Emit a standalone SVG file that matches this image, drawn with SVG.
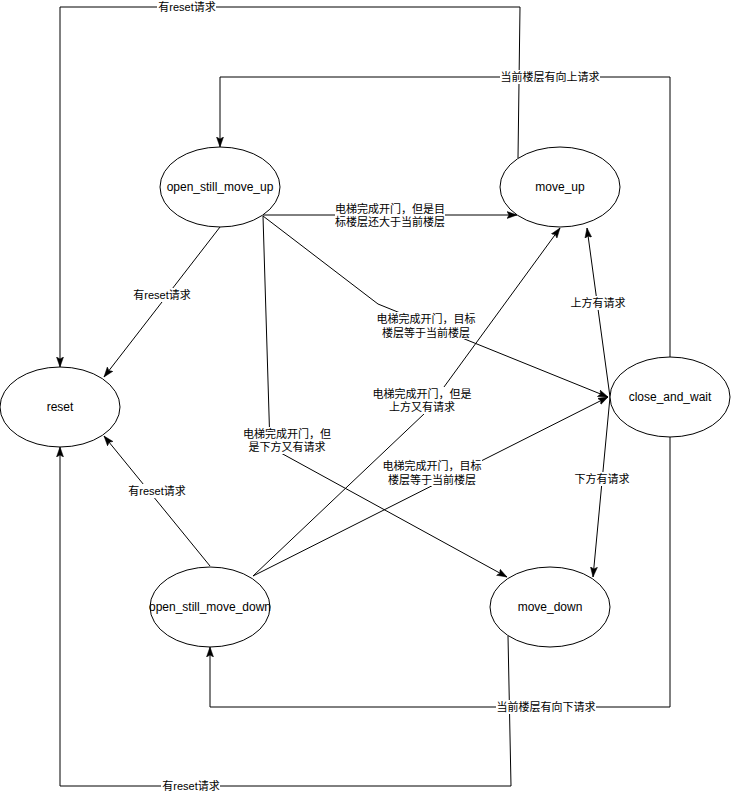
<svg xmlns="http://www.w3.org/2000/svg" width="731" height="796" viewBox="0 0 731 796">
<style>
.n ellipse{fill:#fff;stroke:#000;stroke-width:1}
.n text{font-family:"Liberation Sans","Noto Sans CJK SC",sans-serif;font-size:12px;fill:#000;text-anchor:middle;dominant-baseline:central}
.e path{fill:none;stroke:#000;stroke-width:1;marker-end:url(#arr)}
.lb rect{fill:#fff;stroke:none}
.lb text{font-family:"Liberation Sans","Noto Sans CJK SC",sans-serif;font-size:11px;fill:#000;text-anchor:middle;dominant-baseline:central}
</style>
<defs>
<marker id="arr" markerUnits="userSpaceOnUse" markerWidth="11" markerHeight="8" refX="10" refY="4" orient="auto" viewBox="0 0 11 8">
<path d="M0,0.5 L10,4 L0,7.5 L2,4 z" fill="#000" stroke="#000" stroke-width="0.5"/>
</marker>
</defs>
<rect width="731" height="796" fill="#fff"/>
<g id="edges" class="e">
<path id="e1" d="M518,158 L520,7 L60,7 L60,367"/>
<path id="e2" d="M670,357 L670,77 L220,77 L220,147"/>
<path id="e3" d="M670,437 L670,707 L210,707 L210,647"/>
<path id="e4" d="M508,636 L511,786 L60,786 L60,447"/>
<path id="e5" d="M263,215 L517,215"/>
<path id="e6" d="M220,227 L104,377"/>
<path id="e7" d="M263,216 L378,304 L608,397"/>
<path id="e8" d="M263,216 L270,447 L507,577"/>
<path id="e9" d="M210,566 L104,436"/>
<path id="e10" d="M253,576 L425,413 L560,228"/>
<path id="e11" d="M253,576 L608,397"/>
<path id="e12" d="M610,397 L587,228"/>
<path id="e13" d="M610,397 L593,577"/>
</g>
<g id="labels" class="lb">
<rect x="157" y="0" width="59" height="14"/><text x="187" y="7">有reset请求</text>
<rect x="500" y="70" width="100" height="14"/><text x="550" y="77">当前楼层有向上请求</text>
<rect x="496" y="700" width="100" height="14"/><text x="546" y="707">当前楼层有向下请求</text>
<rect x="161" y="779" width="59" height="14"/><text x="191" y="786">有reset请求</text>
<rect x="335" y="202" width="110" height="27"/><text x="390" y="208.5">电梯完成开门，但是目</text><text x="390" y="222">标楼层还大于当前楼层</text>
<rect x="133" y="288" width="59" height="14"/><text x="162" y="295">有reset请求</text>
<rect x="376" y="312" width="100" height="27"/><text x="426" y="319">电梯完成开门，目标</text><text x="426" y="332.5">楼层等于当前楼层</text>
<rect x="243" y="427" width="89" height="27"/><text x="287" y="433.5">电梯完成开门，但</text><text x="287" y="447">是下方又有请求</text>
<rect x="128" y="484" width="59" height="14"/><text x="157" y="491">有reset请求</text>
<rect x="372" y="387" width="100" height="27"/><text x="422" y="393.5">电梯完成开门，但是</text><text x="422" y="407">上方又有请求</text>
<rect x="382" y="459" width="100" height="27"/><text x="432" y="466">电梯完成开门，目标</text><text x="432" y="479.5">楼层等于当前楼层</text>
<rect x="571" y="296" width="56" height="14"/><text x="598" y="303">上方有请求</text>
<rect x="575" y="472" width="56" height="14"/><text x="602" y="479">下方有请求</text>
</g>
<g id="open_still_move_up" class="n"><ellipse cx="220" cy="187" rx="60" ry="40"/><text x="220" y="187">open_still_move_up</text></g>
<g id="move_up" class="n"><ellipse cx="560" cy="187" rx="60" ry="40"/><text x="560" y="187">move_up</text></g>
<g id="reset" class="n"><ellipse cx="60" cy="407" rx="60" ry="40"/><text x="60" y="407">reset</text></g>
<g id="close_and_wait" class="n"><ellipse cx="670" cy="397" rx="60" ry="40"/><text x="670" y="397">close_and_wait</text></g>
<g id="open_still_move_down" class="n"><ellipse cx="210" cy="607" rx="60" ry="40"/><text x="210" y="607">open_still_move_down</text></g>
<g id="move_down" class="n"><ellipse cx="550" cy="607" rx="60" ry="40"/><text x="550" y="607">move_down</text></g>
</svg>
